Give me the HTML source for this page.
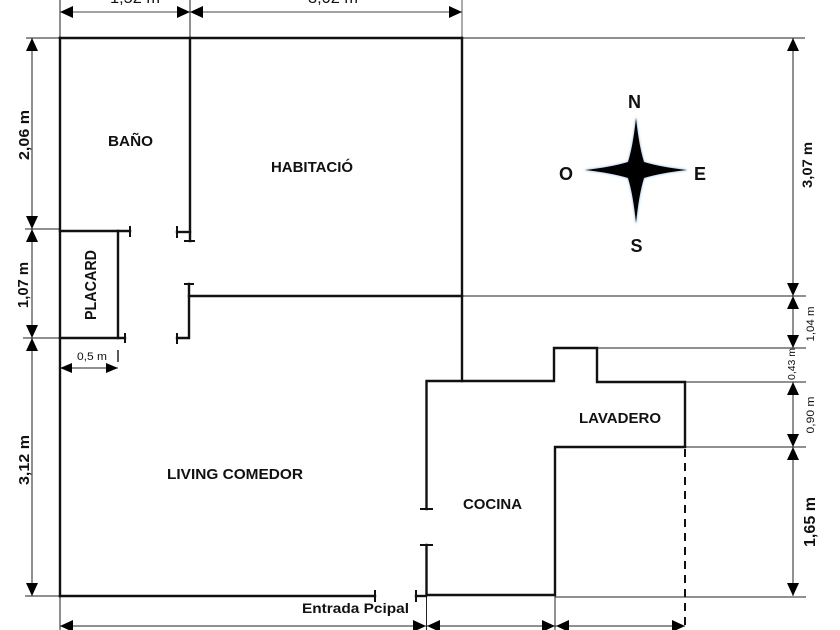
<!DOCTYPE html>
<html><head><meta charset="utf-8"><style>
html,body{margin:0;padding:0;background:#fff;}
svg{display:block;}
text{font-family:"Liberation Sans",sans-serif;fill:#111;}
</style></head><body>
<svg width="840" height="630" viewBox="0 0 840 630" xmlns="http://www.w3.org/2000/svg">
<defs>
<filter id="bl" x="-20%" y="-20%" width="140%" height="140%"><feGaussianBlur stdDeviation="1.4"/></filter>
</defs>
<rect width="840" height="630" fill="#fff"/>

<!-- thin extension lines -->
<g stroke="#222" stroke-width="1" fill="none">
<line x1="26" y1="38" x2="60" y2="38"/>
<line x1="462" y1="38" x2="805" y2="38"/>
<line x1="25" y1="229" x2="60" y2="229"/>
<line x1="23" y1="338" x2="60" y2="338"/>
<line x1="25" y1="596" x2="60" y2="596"/>
<line x1="462" y1="296" x2="806" y2="296"/>
<line x1="597" y1="348" x2="806" y2="348"/>
<line x1="685" y1="382" x2="806" y2="382"/>
<line x1="685" y1="447" x2="806" y2="447"/>
<line x1="555" y1="597" x2="806" y2="597"/>
<line x1="60" y1="0" x2="60" y2="38"/>
<line x1="190" y1="0" x2="190" y2="38"/>
<line x1="462" y1="0" x2="462" y2="38" stroke="#555"/>
<line x1="60" y1="596" x2="60" y2="630"/>
<line x1="426.5" y1="596" x2="426.5" y2="630"/>
<line x1="555" y1="596" x2="555" y2="630"/>
<line x1="118" y1="350" x2="118" y2="362" stroke-width="1.5"/>
<!-- dimension lines -->
<line x1="32" y1="38" x2="32" y2="596"/>
<line x1="793" y1="38" x2="793" y2="348"/>
<line x1="793" y1="382" x2="793" y2="596"/>
<line x1="60" y1="12" x2="462" y2="12" stroke="#444"/>
<line x1="60" y1="626" x2="685" y2="626"/>
<line x1="60" y1="368" x2="118" y2="368"/>
</g>

<!-- arrowheads -->
<g fill="#000">
<polygon points="32,38 26,51 38,51"/><polygon points="32,229 26,216 38,216"/>
<polygon points="32,229 26,242 38,242"/><polygon points="32,338 26,325 38,325"/>
<polygon points="32,338 26,351 38,351"/><polygon points="32,596 26,583 38,583"/>
<polygon points="793,38 787,51 799,51"/><polygon points="793,296 787,283 799,283"/>
<polygon points="793,296 787,309 799,309"/><polygon points="793,348 787,335 799,335"/>
<polygon points="793,382 787,395 799,395"/><polygon points="793,447 787,434 799,434"/>
<polygon points="793,447 787,460 799,460"/><polygon points="793,596 787,583 799,583"/>
<polygon points="60,12 73,6 73,18"/><polygon points="190,12 177,6 177,18"/>
<polygon points="190,12 203,6 203,18"/><polygon points="462,12 449,6 449,18"/>
<polygon points="60,626 73,620 73,632"/><polygon points="426,626 413,620 413,632"/>
<polygon points="427,626 440,620 440,632"/><polygon points="555,626 542,620 542,632"/>
<polygon points="556,626 569,620 569,632"/><polygon points="685,626 672,620 672,632"/>
<polygon points="60,368 72,363 72,373"/><polygon points="118,368 106,363 106,373"/>
</g>

<!-- walls -->
<g stroke="#111" stroke-width="2.4" fill="none" stroke-linecap="square">
<line x1="60" y1="38" x2="462" y2="38"/>
<line x1="60" y1="38" x2="60" y2="596"/>
<line x1="190" y1="38" x2="190" y2="241"/>
<line x1="462" y1="38" x2="462" y2="381"/>
<line x1="189" y1="296" x2="462" y2="296"/>
<line x1="60" y1="596" x2="375" y2="596"/>
<polyline points="426.5,509 426.5,381 554,381 554,348 597,348 597,382 685,382 685,446"/>
<polyline points="685,447 555,447 555,595 426.5,595 426.5,545"/>
<line x1="416" y1="596" x2="426" y2="596"/>
<!-- placard -->
<line x1="60" y1="231" x2="130" y2="231"/>
<line x1="118" y1="231" x2="118" y2="338"/>
<line x1="60" y1="338" x2="125" y2="338"/>
<!-- door stubs -->
<line x1="177" y1="232" x2="190" y2="232"/>
<polyline points="189,284 189,338 177,338"/>
</g>
<g stroke="#111" stroke-width="2" fill="none">
<line x1="130" y1="226" x2="130" y2="237"/>
<line x1="125" y1="333" x2="125" y2="343"/>
<line x1="177" y1="226" x2="177" y2="238"/>
<line x1="184" y1="241" x2="195" y2="241"/>
<line x1="184" y1="284" x2="194" y2="284"/>
<line x1="177" y1="333" x2="177" y2="344"/>
<line x1="375" y1="590" x2="375" y2="602"/>
<line x1="416" y1="590" x2="416" y2="602"/>
<line x1="420" y1="509" x2="433" y2="509"/>
<line x1="420" y1="545" x2="433" y2="545"/>
<line x1="685" y1="449" x2="685" y2="628" stroke-dasharray="8,6"/>
</g>

<!-- compass -->
<path d="M636 116 Q639 146 644 162 Q660 167 689 170 Q660 173 644 178 Q639 194 636 225 Q633 194 628 178 Q612 173 583 170 Q612 167 628 162 Q633 146 636 116 Z" fill="#7fa9d6" filter="url(#bl)"/>
<path d="M636 118 Q639 146 644 162 Q660 167 687 170 Q660 173 644 178 Q639 194 636 223 Q633 194 628 178 Q612 173 585 170 Q612 167 628 162 Q633 146 636 118 Z" fill="#000"/>
<g font-weight="bold" font-size="18">
<text x="634.5" y="108" text-anchor="middle">N</text>
<text x="566" y="180" text-anchor="middle">O</text>
<text x="700" y="180" text-anchor="middle">E</text>
<text x="636.5" y="252" text-anchor="middle">S</text>
</g>

<!-- room labels -->
<g font-weight="bold" font-size="15">
<text x="108" y="146" textLength="45" lengthAdjust="spacingAndGlyphs">BAÑO</text>
<text x="271" y="172" textLength="82" lengthAdjust="spacingAndGlyphs">HABITACIÓ</text>
<text x="167" y="479" textLength="136" lengthAdjust="spacingAndGlyphs">LIVING COMEDOR</text>
<text x="463" y="509" textLength="59" lengthAdjust="spacingAndGlyphs">COCINA</text>
<text x="579" y="423" textLength="82" lengthAdjust="spacingAndGlyphs">LAVADERO</text>
<text x="302" y="613" font-size="14" textLength="107" lengthAdjust="spacingAndGlyphs">Entrada Pcipal</text>
<text x="56" y="290" font-size="16" textLength="70" lengthAdjust="spacingAndGlyphs" transform="rotate(-90 91 285)">PLACARD</text>
</g>

<!-- dimension labels -->
<g font-weight="bold">
<text x="-1" y="140" font-size="15" textLength="50" lengthAdjust="spacingAndGlyphs" transform="rotate(-90 24 135)">2,06 m</text>
<text x="0" y="290" font-size="15" textLength="46" lengthAdjust="spacingAndGlyphs" transform="rotate(-90 23 285)">1,07 m</text>
<text x="-1" y="465" font-size="15" textLength="50" lengthAdjust="spacingAndGlyphs" transform="rotate(-90 24 460)">3,12 m</text>
<text x="784" y="170" font-size="14" textLength="46" lengthAdjust="spacingAndGlyphs" transform="rotate(-90 807 165)">3,07 m</text>
<text x="784" y="528" font-size="16" textLength="50" lengthAdjust="spacingAndGlyphs" transform="rotate(-90 809 522)">1,65 m</text>
</g>
<g font-size="11">
<text x="792.5" y="328" textLength="35" lengthAdjust="spacingAndGlyphs" transform="rotate(-90 810 324)">1,04 m</text>
<text x="775" y="368" font-size="10" textLength="32" lengthAdjust="spacingAndGlyphs" transform="rotate(-90 791 364)">0,43 m</text>
<text x="791.5" y="419" textLength="37" lengthAdjust="spacingAndGlyphs" transform="rotate(-90 810 415)">0,90 m</text>
<text x="77" y="360" textLength="30" lengthAdjust="spacingAndGlyphs">0,5 m</text>
<text x="110" y="3" font-size="16" textLength="50" lengthAdjust="spacingAndGlyphs">1,52 m</text>
<text x="308" y="3" font-size="16" textLength="50" lengthAdjust="spacingAndGlyphs">3,02 m</text>
</g>
</svg>
</body></html>
